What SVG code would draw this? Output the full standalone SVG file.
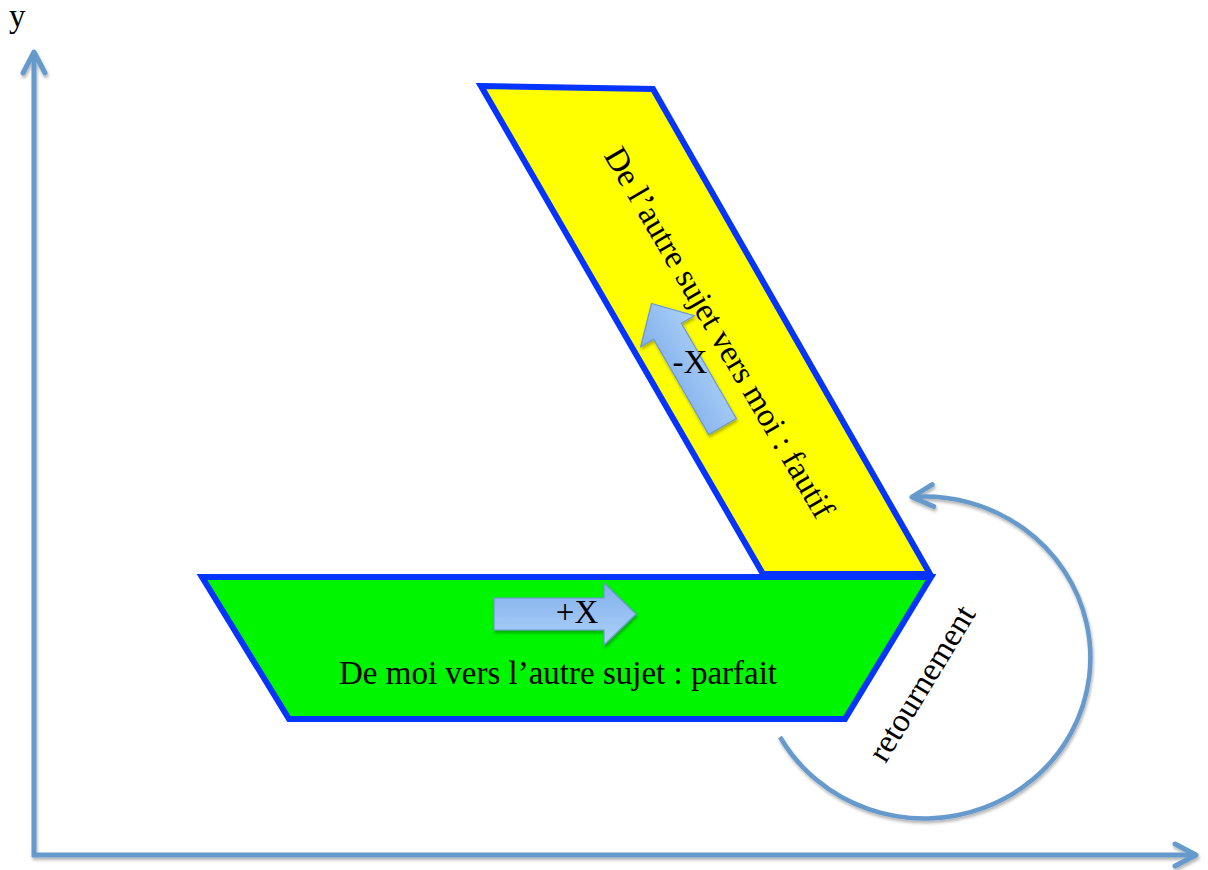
<svg xmlns="http://www.w3.org/2000/svg" width="1208" height="870" viewBox="0 0 1208 870">
  <style>
    .axis { fill: none; stroke: #6699cc; stroke-width: 5; stroke-linecap: butt; }
    .turn { fill: none; stroke: #6699cc; stroke-width: 4.5; }
    .band { stroke: #0533ff; stroke-width: 6; stroke-linejoin: miter; }
    .block { fill: url(#blockFill); stroke: #6a98d6; stroke-width: 1.2; }
    .lbl { font-family: "Liberation Serif", "Times New Roman", serif; font-size: 33px; fill: #000; }
  </style>
  <defs>
    <filter id="shade" x="-10%" y="-10%" width="130%" height="130%">
      <feDropShadow dx="1" dy="2.5" stdDeviation="1.6" flood-color="#000" flood-opacity="0.3"/>
    </filter>
    <linearGradient id="blockFill" x1="0" y1="0" x2="0" y2="1">
      <stop offset="0" stop-color="#82b0ec"/>
      <stop offset="1" stop-color="#acd0f8"/>
    </linearGradient>
    <marker id="chev" markerUnits="userSpaceOnUse" markerWidth="40" markerHeight="40" viewBox="-30 -20 40 40" refX="0" refY="0" orient="auto" overflow="visible">
      <path d="M-21,-11 L0,0 L-21,11" fill="none" stroke="#6699cc" stroke-width="5" stroke-linecap="round" stroke-linejoin="round"/>
    </marker>
    <path id="blockArrow" d="M0,-16 L110,-16 L110,-31 L142,0 L110,31 L110,16 L0,16 Z"/>
  </defs>

  <!-- axes -->
  <g id="axes" filter="url(#shade)">
    <path class="axis" d="M34,857 L34,52" marker-end="url(#chev)"/>
    <path class="axis" d="M32,855 L1196,855" marker-end="url(#chev)"/>
  </g>
  <text class="lbl" x="9" y="27" font-size="30">y</text>

  <!-- yellow band -->
  <g id="band-fautif">
    <polygon class="band" fill="#ffff00" points="481,86 653,89 930,574 763,574"/>
    <text class="lbl" x="710" y="338" text-anchor="middle" transform="rotate(59.7 710 338)">De l’autre sujet vers moi : fautif</text>
  </g>

  <!-- green band -->
  <g id="band-parfait">
    <polygon class="band" fill="#00f500" points="202,577 931,577 845,719 289,719"/>
    <text class="lbl" x="558" y="684" text-anchor="middle">De moi vers l’autre sujet : parfait</text>
  </g>

  <!-- direction arrows -->
  <g id="arrow-plus" filter="url(#shade)">
    <use href="#blockArrow" class="block" transform="translate(494,614)"/>
  </g>
  <text class="lbl" x="577" y="623" text-anchor="middle" font-size="32">+X</text>

  <g id="arrow-minus" filter="url(#shade)">
    <use href="#blockArrow" class="block" transform="translate(722.5,426.5) rotate(-120)"/>
  </g>
  <text class="lbl" x="690" y="373" text-anchor="middle" font-size="32">-X</text>

  <!-- turning connector -->
  <g id="connectors" filter="url(#shade)">
    <path class="turn" d="M780,737 A166,161 0 1 0 912,497" marker-end="url(#chev)"/>
  </g>
  <g id="label-retournement">
    <text class="lbl" x="931" y="689" text-anchor="middle" font-size="36" transform="rotate(-58.8 931 689)">retournement</text>
  </g>
</svg>
